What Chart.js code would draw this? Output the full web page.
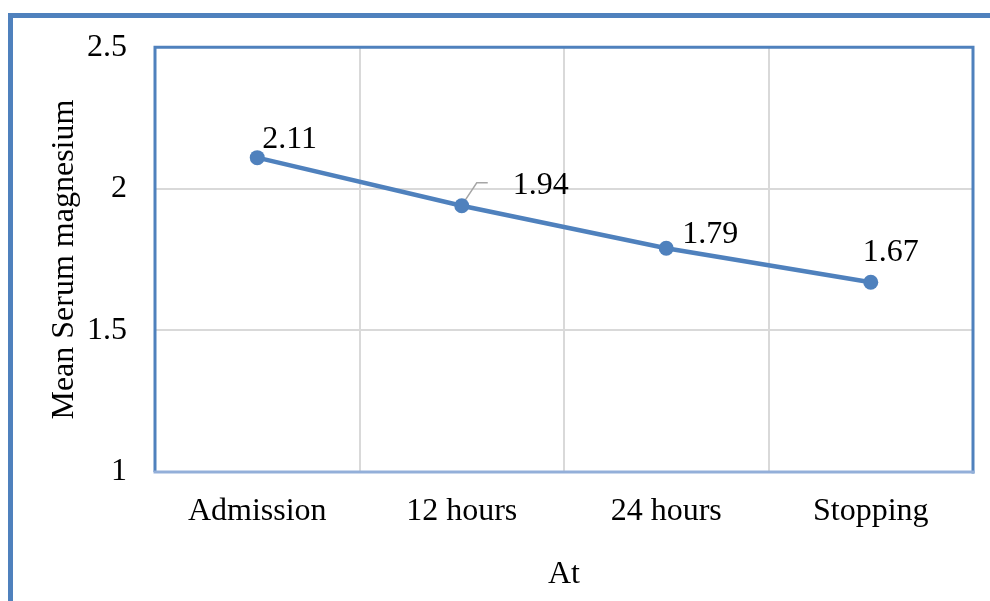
<!DOCTYPE html>
<html>
<head>
<meta charset="utf-8">
<script src="https://cdn.jsdelivr.net/npm/chart.js@4"></script>
<style>
  html, body { margin: 0; padding: 0; background: #ffffff; }
  #wrap { width: 990px; height: 601px; position: relative; }
</style>
</head>
<body>
<div id="wrap"><canvas id="c" width="990" height="601"></canvas></div>
<script>
// Mean serum magnesium at each time point
const categories = ['Admission', '12 hours', '24 hours', 'Stopping'];
const meanMagnesium = [2.11, 1.94, 1.79, 1.67];
const yTickValues = [1, 1.5, 2, 2.5];
const yAxisTitle = 'Mean Serum magnesium';
const xAxisTitle = 'At';

const FONT = "'Liberation Serif', 'Times New Roman', Times, serif";
const BLUE = '#4f81bd';

// Outer frame plus the plot-area border
const framePlugin = {
  id: 'frame',
  beforeDraw(chart) {
    const ctx = chart.ctx;
    ctx.save();
    ctx.strokeStyle = BLUE;
    ctx.lineWidth = 5;
    ctx.beginPath();
    ctx.moveTo(10.5, 610);
    ctx.lineTo(10.5, 15.5);
    ctx.lineTo(1000, 15.5);
    ctx.stroke();
    ctx.restore();
  },
  beforeDatasetsDraw(chart) {
    const { ctx, chartArea: a } = chart;
    ctx.save();
    ctx.lineWidth = 3;
    ctx.strokeStyle = BLUE;
    ctx.beginPath();
    ctx.moveTo(a.left, a.bottom);
    ctx.lineTo(a.left, a.top);
    ctx.lineTo(a.right, a.top);
    ctx.lineTo(a.right, a.bottom + 1.5);
    ctx.stroke();
    ctx.strokeStyle = '#93afd9';
    ctx.beginPath();
    ctx.moveTo(a.left - 1.5, a.bottom);
    ctx.lineTo(a.right + 1.5, a.bottom);
    ctx.stroke();

    // leader line for the offset label on the second point
    const p = chart.getDatasetMeta(0).data[1];
    ctx.strokeStyle = '#a6a6a6';
    ctx.lineWidth = 1.5;
    ctx.beginPath();
    ctx.moveTo(p.x + 1, p.y - 2);
    ctx.lineTo(p.x + 15, p.y - 23);
    ctx.lineTo(p.x + 26, p.y - 23);
    ctx.stroke();
    ctx.restore();
  }
};

// Value labels next to each point
const valueLabelPlugin = {
  id: 'valueLabels',
  afterDatasetsDraw(chart) {
    const ctx = chart.ctx;
    const offsets = [[5, -10], [51, -12], [16, -5], [-8, -21]];
    const meta = chart.getDatasetMeta(0);
    ctx.save();
    ctx.font = '32px ' + FONT;
    ctx.fillStyle = '#000000';
    ctx.textAlign = 'left';
    ctx.textBaseline = 'alphabetic';
    meta.data.forEach((pt, i) => {
      const [dx, dy] = offsets[i];
      ctx.fillText(String(meanMagnesium[i]), pt.x + dx, pt.y + dy);
    });
    ctx.restore();
  }
};

new Chart(document.getElementById('c'), {
  type: 'line',
  data: {
    labels: categories,
    datasets: [{
      data: meanMagnesium,
      borderColor: BLUE,
      backgroundColor: BLUE,
      borderWidth: 4.5,
      pointRadius: 7.5,
      pointHoverRadius: 7.5,
      pointBorderWidth: 0,
      tension: 0,
      clip: false
    }]
  },
  options: {
    responsive: false,
    animation: false,
    devicePixelRatio: 1,
    layout: { padding: { top: 46, right: 17, bottom: 0, left: 0 } },
    plugins: {
      legend: { display: false },
      tooltip: { enabled: false }
    },
    scales: {
      x: {
        offset: true,
        grid: { offset: true, color: '#d9d9d9', lineWidth: 2, drawTicks: false },
        border: { display: false },
        ticks: {
          color: '#000000',
          padding: 20,
          font: { family: FONT, size: 32 },
          maxRotation: 0
        },
        title: {
          display: true,
          text: xAxisTitle,
          color: '#000000',
          font: { family: FONT, size: 32 },
          padding: { top: 0, bottom: 7 }
        },
        afterFit(scale) { scale.height = 129; }
      },
      y: {
        min: 1,
        max: 2.5,
        grid: { color: '#d9d9d9', lineWidth: 2, drawTicks: false },
        border: { display: false },
        afterBuildTicks(scale) {
          scale.ticks = yTickValues.map(v => ({ value: v }));
        },
        ticks: {
          color: '#000000',
          padding: 28,
          font: { family: FONT, size: 32 },
          callback: (v) => String(v)
        },
        title: {
          display: true,
          text: yAxisTitle,
          color: '#000000',
          font: { family: FONT, size: 32 },
          padding: { top: 45, bottom: 0 }
        },
        afterFit(scale) { scale.width = 155; }
      }
    }
  },
  plugins: [framePlugin, valueLabelPlugin]
});
</script>
</body>
</html>
